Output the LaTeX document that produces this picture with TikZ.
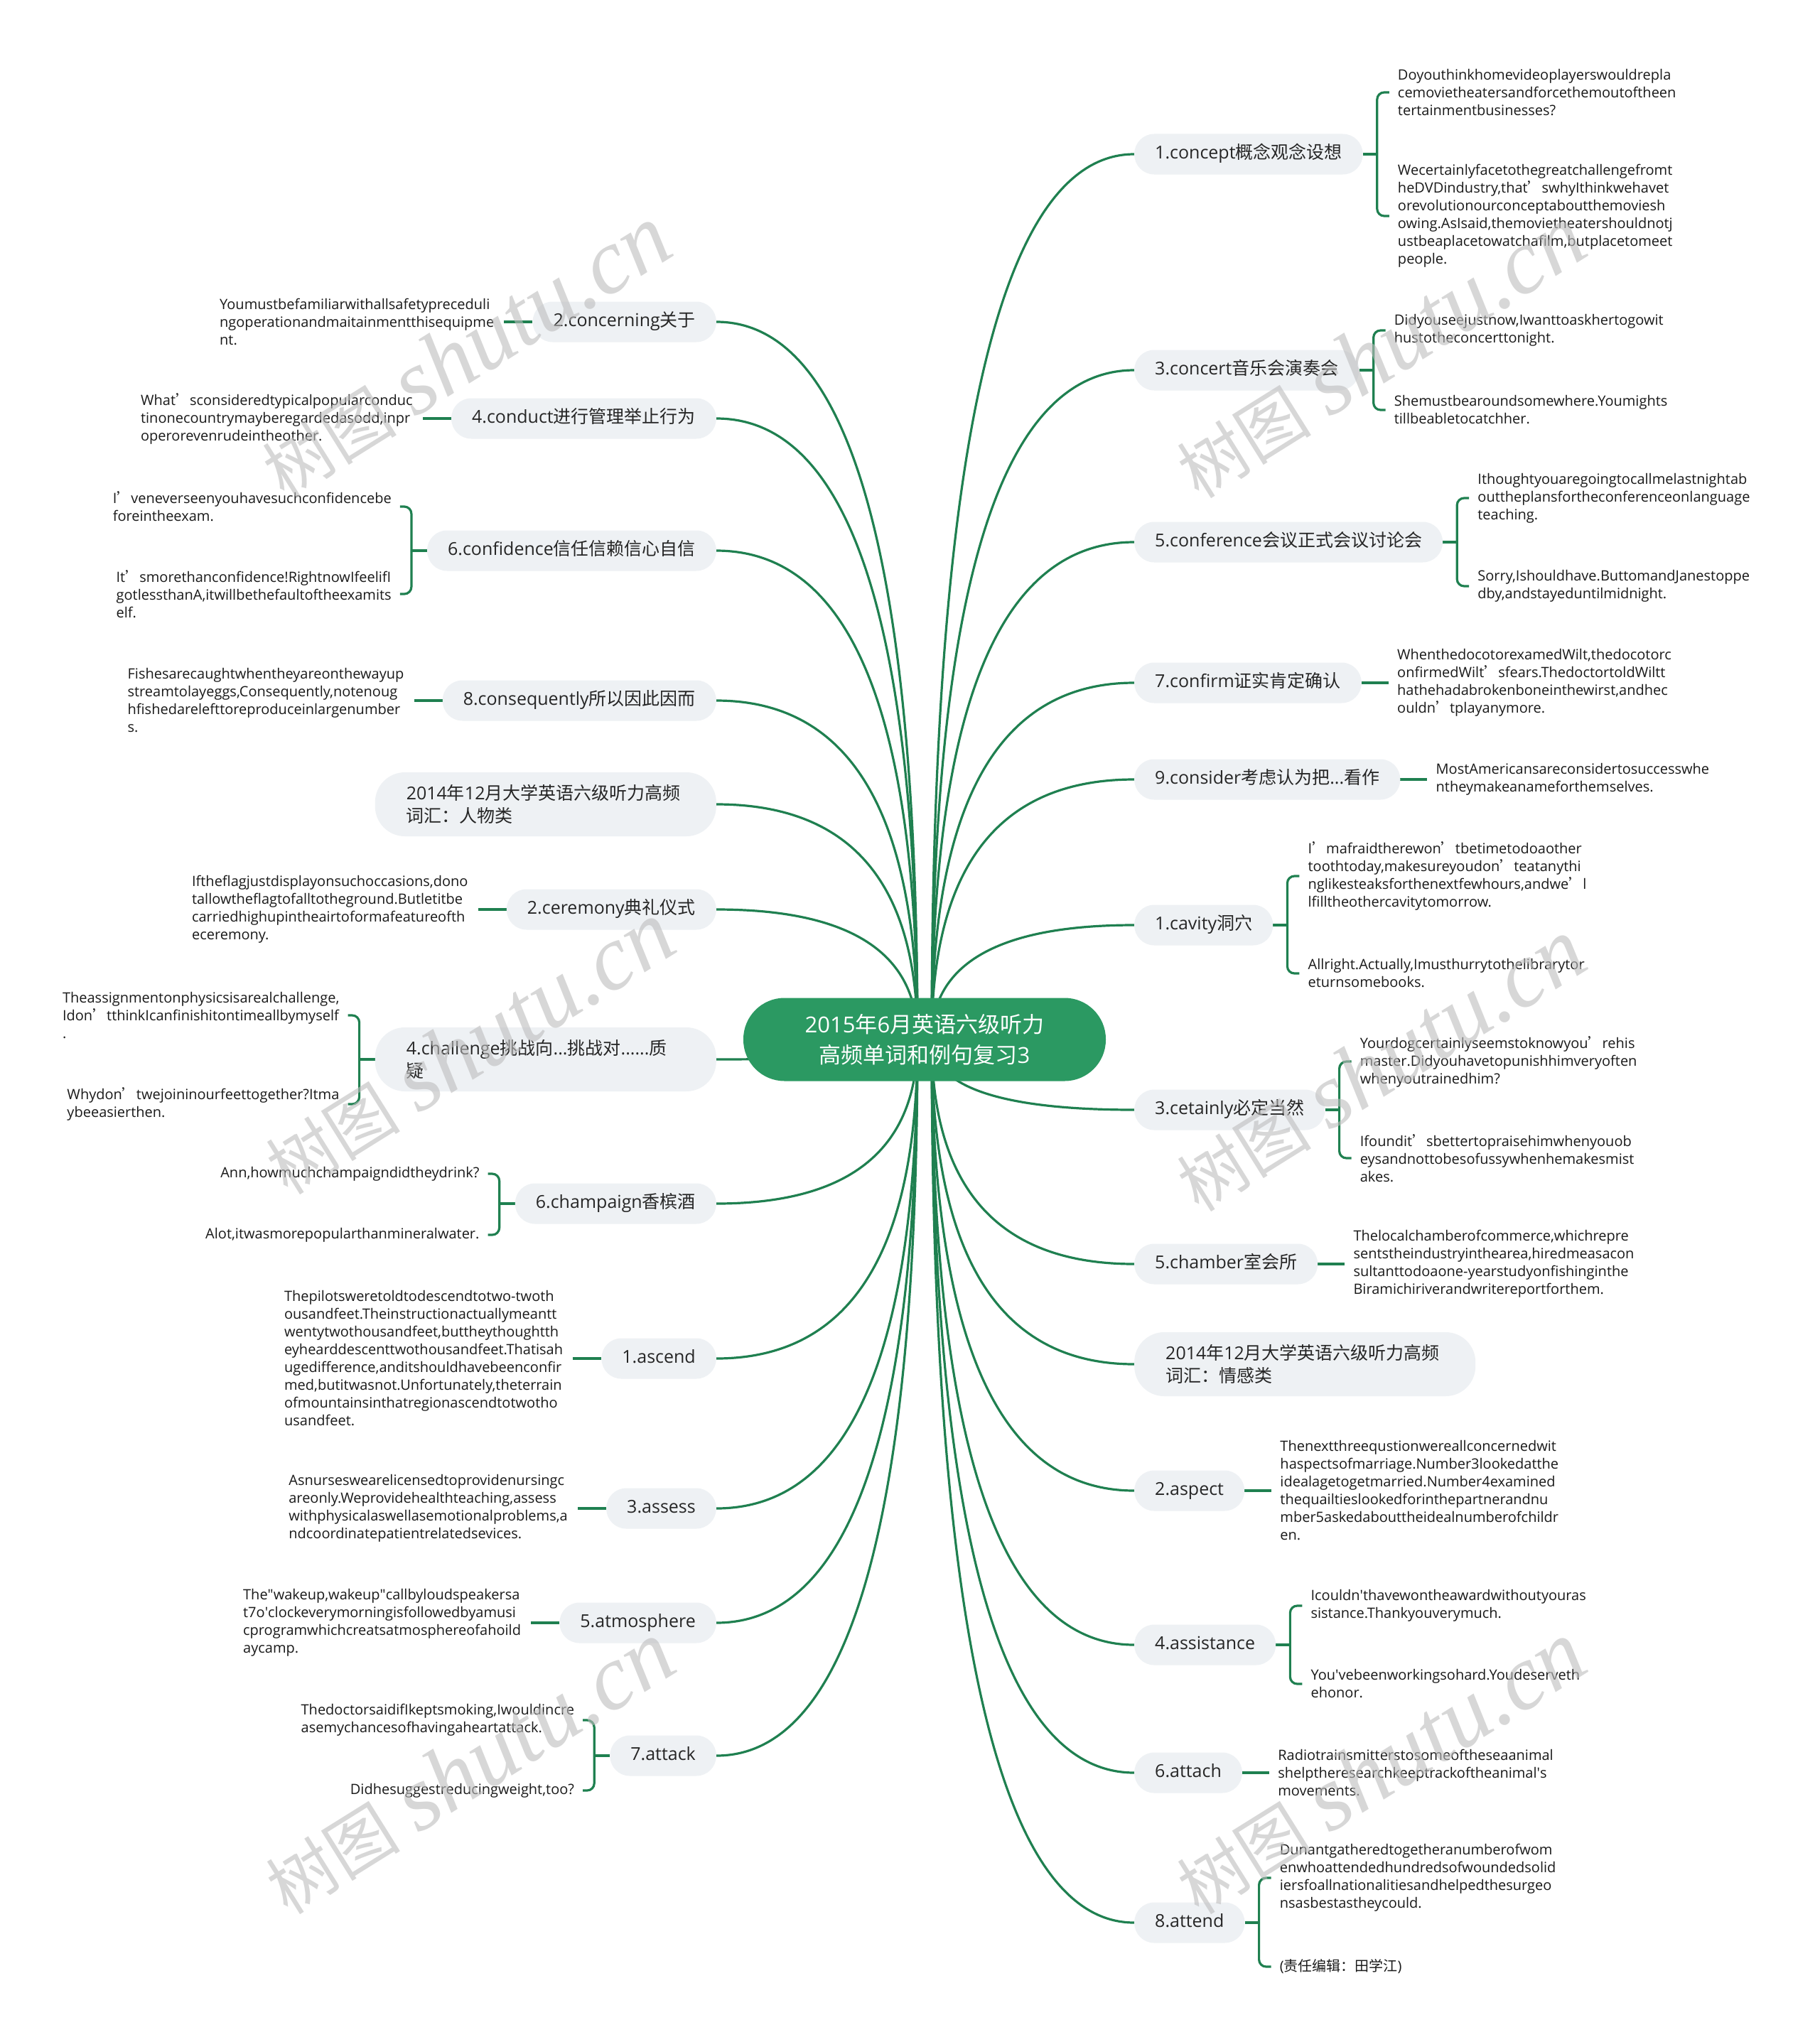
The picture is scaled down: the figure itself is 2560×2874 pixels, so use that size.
\documentclass[tikz,border=0pt]{standalone}
\usepackage{fontspec}
\setmainfont{Open Sans}
\newfontfamily\cjk{Noto Sans CJK SC}
\newfontfamily\wmser{Liberation Serif}
\usetikzlibrary{calc}
\definecolor{cgreen}{HTML}{2B9962}
\definecolor{lgreen}{HTML}{1F8050}
\definecolor{nfill}{HTML}{EEF1F4}
\definecolor{ntext}{HTML}{262626}
\definecolor{ltext}{HTML}{1A1A1A}
\definecolor{wm}{HTML}{BDBDBD}
\pgfdeclarelayer{bg}
\pgfsetlayers{bg,main}
\newcommand\q{{\cjk ’}}
\newcommand\sq{\textquotesingle}
\newcommand\dq{\textquotedbl}
\newcommand\rone[2]{%
 \node[leaf,anchor=west] (#1a) at ($(#1.east)+(50,0)$) {#2};
 \begin{pgfonlayer}{bg}\draw[conn] (#1.east) -- ($(#1a.west)+(-12,0)$);\end{pgfonlayer}}
\newcommand\lone[2]{%
 \node[leaf,anchor=east] (#1a) at ($(#1.west)+(-54,0)$) {#2};
 \begin{pgfonlayer}{bg}\draw[conn] (#1.west) -- ($(#1a.east)+(14,0)$);\end{pgfonlayer}}
\newcommand\rtwo[5]{%
 \node[leaf,anchor=west] (#1a) at ($(#1.east)+(49,#2)$) {#3};
 \node[leaf,anchor=west] (#1b) at ($(#1.east)+(49,#4)$) {#5};
 \begin{pgfonlayer}{bg}
 \draw[conn] (#1.east) -- ++(20,0) coordinate (#1t);
 \draw[conn,rounded corners=10pt] (#1t) |- ($(#1a.west)+(-12,0)$);
 \draw[conn,rounded corners=10pt] (#1t) |- ($(#1b.west)+(-12,0)$);
 \end{pgfonlayer}}
\newcommand\ltwo[5]{%
 \node[leaf,anchor=east] (#1a) at ($(#1.west)+(-50,#2)$) {#3};
 \node[leaf,anchor=east] (#1b) at ($(#1.west)+(-50,#4)$) {#5};
 \begin{pgfonlayer}{bg}
 \draw[conn] (#1.west) -- ++(-22,0) coordinate (#1t);
 \draw[conn,rounded corners=10pt] (#1t) |- ($(#1a.east)+(12,0)$);
 \draw[conn,rounded corners=10pt] (#1t) |- ($(#1b.east)+(12,0)$);
 \end{pgfonlayer}}
\newcommand\rc[1]{\begin{pgfonlayer}{bg}\draw[mainc] (cr) .. controls ($(cr)!0.667!(cr |- #1.west)$) and ($(#1.west)!0.667!(cr |- #1.west)$) .. (#1.west);\end{pgfonlayer}}
\newcommand\lc[1]{\begin{pgfonlayer}{bg}\draw[mainc] (cl) .. controls ($(cl)!0.667!(cl |- #1.east)$) and ($(#1.east)!0.667!(cl |- #1.east)$) .. (#1.east);\end{pgfonlayer}}
\newcommand\wmark[2]{\node[wmk] (#1) at (#2) {{\cjk\fontsize{95}{95}\selectfont 树图}\hspace{26pt}{\wmser\itshape\fontsize{130}{130}\selectfont shutu.cn}};}
\begin{document}
\begin{tikzpicture}[x=1pt,y=-1pt,
 mainc/.style={draw=lgreen,line width=3.2pt},
 conn/.style={draw=lgreen,line width=3.2pt},
 br/.style={fill=nfill,rounded corners=28pt,minimum height=57pt,inner xsep=29pt,inner ysep=0pt,text=ntext,text height=19pt,text depth=6pt,font=\fontsize{25}{32}\selectfont},
 brtwo/.style={fill=nfill,rounded corners=42pt,minimum height=90pt,inner xsep=44pt,inner ysep=0pt,text=ntext,text width=392pt,align=left,font=\fontsize{25}{32}\selectfont},
 leaf/.style={inner sep=0pt,align=left,text=ltext,font=\fontsize{20}{25}\selectfont},
 ctr/.style={fill=cgreen,rounded corners=58pt,minimum width=510pt,minimum height=117pt,text=white,align=center,font=\fontsize{31}{43}\selectfont},
 wmk/.style={text=wm,opacity=0.6,rotate=32,inner sep=0pt}]
\begin{pgfonlayer}{bg}
\fill[white] (0,0) rectangle (2560,2874);
\end{pgfonlayer}
\useasboundingbox (0,0) rectangle (2560,2874);

\node[ctr] (c) at (1301,1463) {2015{\cjk 年}6{\cjk 月英语六级听力}\\{\cjk 高频单词和例句复习}3};
\coordinate (cr) at (1311,1463);
\coordinate (cl) at (1291,1463);

% right branches
\node[br,anchor=west] (r1) at (1596,217) {1.concept{\cjk 概念观念设想}};
\node[br,anchor=west] (r2) at (1596,521) {3.concert{\cjk 音乐会演奏会}};
\node[br,anchor=west] (r3) at (1596,763) {5.conference{\cjk 会议正式会议讨论会}};
\node[br,anchor=west] (r4) at (1596,961) {7.confirm{\cjk 证实肯定确认}};
\node[br,anchor=west] (r5) at (1596,1097) {9.consider{\cjk 考虑认为把}...{\cjk 看作}};
\node[br,anchor=west] (r6) at (1596,1302) {1.cavity{\cjk 洞穴}};
\node[br,anchor=west] (r7) at (1596,1562) {3.cetainly{\cjk 必定当然}};
\node[br,anchor=west] (r8) at (1596,1779) {5.chamber{\cjk 室会所}};
\node[brtwo,anchor=west] (r9) at (1596,1920) {2014{\cjk 年}12{\cjk 月大学英语六级听力高频}\\{\cjk 词汇：情感类}};
\node[br,anchor=west] (r10) at (1596,2098) {2.aspect};
\node[br,anchor=west] (r11) at (1596,2315) {4.assistance};
\node[br,anchor=west] (r12) at (1596,2495) {6.attach};
\node[br,anchor=west] (r13) at (1596,2706) {8.attend};

% left branches
\node[br,anchor=east] (l1) at (1008,453) {2.concerning{\cjk 关于}};
\node[br,anchor=east] (l2) at (1008,589) {4.conduct{\cjk 进行管理举止行为}};
\node[br,anchor=east] (l3) at (1008,775) {6.confidence{\cjk 信任信赖信心自信}};
\node[br,anchor=east] (l4) at (1008,986) {8.consequently{\cjk 所以因此因而}};
\node[brtwo,anchor=east] (l5) at (1008,1132) {2014{\cjk 年}12{\cjk 月大学英语六级听力高频}\\{\cjk 词汇：人物类}};
\node[br,anchor=east] (l6) at (1008,1280) {2.ceremony{\cjk 典礼仪式}};
\node[brtwo,anchor=east] (l7) at (1008,1491) {4.challenge{\cjk 挑战向}...{\cjk 挑战对}......{\cjk 质}\\{\cjk 疑}};
\node[br,anchor=east] (l8) at (1008,1694) {6.champaign{\cjk 香槟酒}};
\node[br,anchor=east] (l9) at (1008,1912) {1.ascend};
\node[br,anchor=east] (l10) at (1008,2123) {3.assess};
\node[br,anchor=east] (l11) at (1008,2284) {5.atmosphere};
\node[br,anchor=east] (l12) at (1008,2471) {7.attack};

% main curves
\rc{r1}\rc{r2}\rc{r3}\rc{r4}\rc{r5}\rc{r6}\rc{r7}\rc{r8}\rc{r9}\rc{r10}\rc{r11}\rc{r12}\rc{r13}
\lc{l1}\lc{l2}\lc{l3}\lc{l4}\lc{l5}\lc{l6}\lc{l7}\lc{l8}\lc{l9}\lc{l10}\lc{l11}\lc{l12}

% right leaves
\rtwo{r1}{-87}{Doyouthinkhomevideoplayerswouldrepla\\cemovietheatersandforcethemoutoftheen\\tertainmentbusinesses?}{87}{Wecertainlyfacetothegreatchallengefromt\\heDVDindustry,that\q swhyIthinkwehavet\\orevolutionourconceptaboutthemoviesh\\owing.AsIsaid,themovietheatershouldnotj\\ustbeaplacetowatchafilm,butplacetomeet\\people.}
\rtwo{r2}{-56}{Didyouseejustnow,Iwanttoaskhertogowit\\hustotheconcerttonight.}{56}{Shemustbearoundsomewhere.Youmights\\tillbeabletocatchher.}
\rtwo{r3}{-62}{Ithoughtyouaregoingtocallmelastnightab\\outtheplansfortheconferenceonlanguage\\teaching.}{62}{Sorry,Ishouldhave.ButtomandJanestoppe\\dby,andstayeduntilmidnight.}
\rone{r4}{WhenthedocotorexamedWilt,thedocotorc\\onfirmedWilt\q sfears.ThedoctortoldWiltt\\hathehadabrokenboneinthewirst,andhec\\ouldn\q tplayanymore.}
\rone{r5}{MostAmericansareconsidertosuccesswhe\\ntheymakeanameforthemselves.}
\rtwo{r6}{-69}{I\q mafraidtherewon\q tbetimetodoaother\\toothtoday,makesureyoudon\q teatanythi\\nglikesteaksforthenextfewhours,andwe\q l\\lfilltheothercavitytomorrow.}{68}{Allright.Actually,Imusthurrytothelibrarytor\\eturnsomebooks.}
\rtwo{r7}{-68}{Yourdogcertainlyseemstoknowyou\q rehis\\master.Didyouhavetopunishhimveryoften\\whenyoutrainedhim?}{68}{Ifoundit\q sbettertopraisehimwhenyouob\\eysandnottobesofussywhenhemakesmist\\akes.}
\rone{r8}{Thelocalchamberofcommerce,whichrepre\\sentstheindustryinthearea,hiredmeasacon\\sultanttodoaone-yearstudyonfishinginthe\\Biramichiriverandwritereportforthem.}
\rone{r10}{Thenextthreequstionwereallconcernedwit\\haspectsofmarriage.Number3lookedatthe\\idealagetogetmarried.Number4examined\\thequailtieslookedforinthepartnerandnu\\mber5askedabouttheidealnumberofchildr\\en.}
\rtwo{r11}{-55}{Icouldn\sq thavewontheawardwithoutyouras\\sistance.Thankyouverymuch.}{55}{You\sq vebeenworkingsohard.Youdeserveth\\ehonor.}
\rone{r12}{Radiotrainsmitterstosomeoftheseaanimal\\shelptheresearchkeeptrackoftheanimal\sq s\\movements.}
\rtwo{r13}{-63}{Dunantgatheredtogetheranumberofwom\\enwhoattendedhundredsofwoundedsolid\\iersfoallnationalitiesandhelpedthesurgeo\\nsasbestastheycould.}{62}{({\cjk 责任编辑：田学江})}

% left leaves
\lone{l1}{Youmustbefamiliarwithallsafetypreceduli\\ngoperationandmaitainmentthisequipme\\nt.}
\lone{l2}{What\q sconsideredtypicalpopularconduc\\tinonecountrymayberegardedasodd,inpr\\operorevenrudeintheother.}
\ltwo{l3}{-62}{I\q veneverseenyouhavesuchconfidencebe\\foreintheexam.}{61}{It\q smorethanconfidence!RightnowIfeelifI\\gotlessthanA,itwillbethefaultoftheexamits\\elf.}
\lone{l4}{Fishesarecaughtwhentheyareonthewayup\\streamtolayeggs,Consequently,notenoug\\hfishedarelefttoreproduceinlargenumber\\s.}
\lone{l6}{Iftheflagjustdisplayonsuchoccasions,dono\\tallowtheflagtofalltotheground.Butletitbe\\carriedhighupintheairtoformafeatureofth\\eceremony.}
\ltwo{l7}{-62}{Theassignmentonphysicsisarealchallenge,\\Idon\q tthinkIcanfinishitontimeallbymyself\\.}{63}{Whydon\q twejoininourfeettogether?Itma\\ybeeasierthen.}
\ltwo{l8}{-42}{Ann,howmuchchampaigndidtheydrink?}{44}{Alot,itwasmorepopularthanmineralwater.}
\lone{l9}{Thepilotsweretoldtodescendtotwo-twoth\\ousandfeet.Theinstructionactuallymeantt\\wentytwothousandfeet,buttheythoughtth\\eyhearddescenttwothousandfeet.Thatisah\\ugedifference,anditshouldhavebeenconfir\\med,butitwasnot.Unfortunately,theterrain\\ofmountainsinthatregionascendtotwotho\\usandfeet.}
\lone{l10}{Asnurseswearelicensedtoprovidenursingc\\areonly.Weprovidehealthteaching,assess\\withphysicalaswellasemotionalproblems,a\\ndcoordinatepatientrelatedsevices.}
\lone{l11}{The\dq wakeup,wakeup\dq callbyloudspeakersa\\t7o\sq clockeverymorningisfollowedbyamusi\\cprogramwhichcreatsatmosphereofahoild\\aycamp.}
\ltwo{l12}{-50}{ThedoctorsaidifIkeptsmoking,Iwouldincre\\asemychancesofhavingaheartattack.}{49}{Didhesuggestreducingweight,too?}

% watermarks
\wmark{w1}{655,495}
\wmark{w2}{1942,495}
\wmark{w3}{660,1475}
\wmark{w4}{1942,1499}
\wmark{w5}{660,2488}
\wmark{w6}{1942,2488}
\end{tikzpicture}
\end{document}
